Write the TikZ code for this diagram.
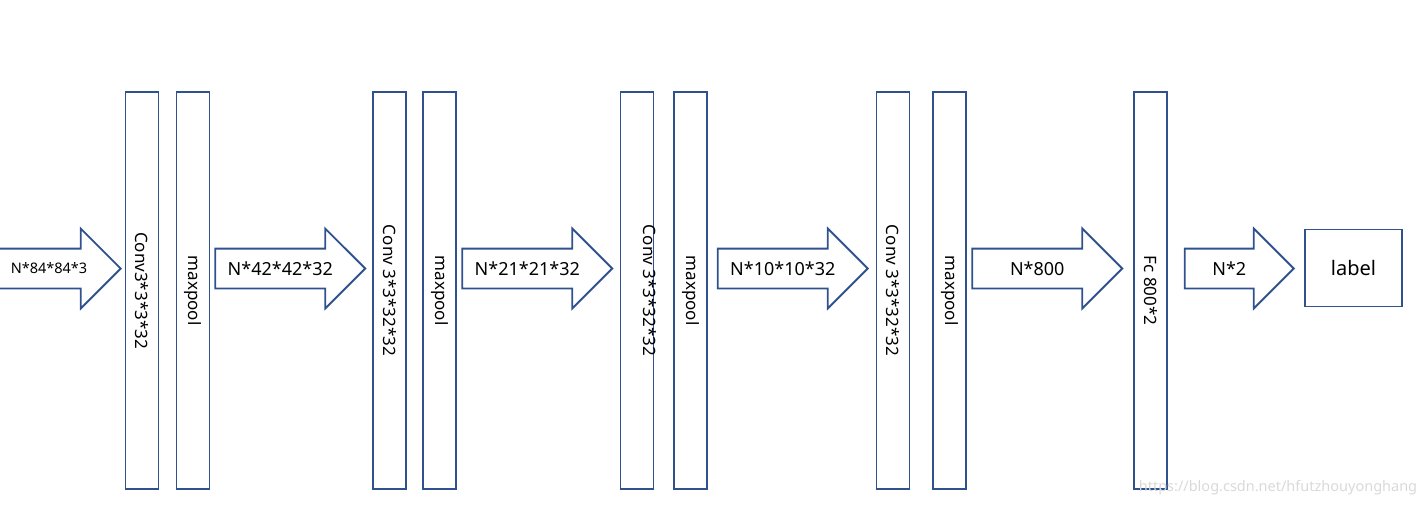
\documentclass[tikz,border=0pt]{standalone}
\usepackage{fontspec}
\setmainfont{Noto Sans}
\usetikzlibrary{shapes.arrows}
\definecolor{boxblue}{RGB}{47,82,143}

\begin{document}
\begin{tikzpicture}[x=1pt, y=-1pt,
    layer/.style={draw=boxblue, line width=1.8pt, rotate=-90, inner sep=0pt,
        minimum width=397pt, minimum height=33pt, font=\fontsize{17}{20}\selectfont},
    flow/.style={single arrow, draw=boxblue, line width=1.8pt, anchor=tip,
        minimum height=150pt, single arrow head extend=20pt,
        inner xsep=2pt, inner ysep=12.5pt, text height=13pt, text depth=0pt,
        font=\fontsize{18}{20}\selectfont}]
    \useasboundingbox (0,0) rectangle (1425,506);

    % Create layers
    \node[layer] (conv1) at (142,290.5) {Conv3*3*3*32};
    \node[layer] (pool1) at (193,290.5) {maxpool};
    \node[layer] (conv2) at (389.5,290.5) {Conv 3*3*32*32};
    \node[layer] (pool2) at (439.5,290.5) {maxpool};
    \node[layer] (conv3) at (637,290.5) {\raisebox{6.5pt}[0pt][0pt]{Conv 3*3*32*32}};
    \node[layer] (pool3) at (690.5,290.5) {maxpool};
    \node[layer] (conv4) at (893,290.5) {Conv 3*3*32*32};
    \node[layer] (pool4) at (949.5,290.5) {maxpool};
    \node[layer] (fc) at (1150.5,290.5) {Fc 800*2};
    \node[draw=boxblue, line width=1.8pt, minimum width=97pt, minimum height=77pt,
        font=\fontsize{20}{22}\selectfont] (label) at (1353.5,268) {label};

    % Draw arrows
    \node[flow] (in) at (122,268.5) {};
    \node[font=\fontsize{14.5}{16}\selectfont] (intext) at (49,268.5) {N*84*84*3};
    \node[flow] (out1) at (366.5,268.5) {N*42*42*32};
    \node[flow] (out2) at (613.5,268.5) {N*21*21*32};
    \node[flow] (out3) at (869,268.5) {N*10*10*32};
    \node[flow] (flat) at (1123.5,268.5) {N*800};
    \node[flow, minimum height=109pt] (score) at (1295,268.5) {N*2};

    % Watermark
    \node[text=gray!30, font=\fontsize{14.5}{16}\selectfont] (mark) at (1278,488) {https://blog.csdn.net/hfutzhouyonghang};
\end{tikzpicture}
\end{document}
